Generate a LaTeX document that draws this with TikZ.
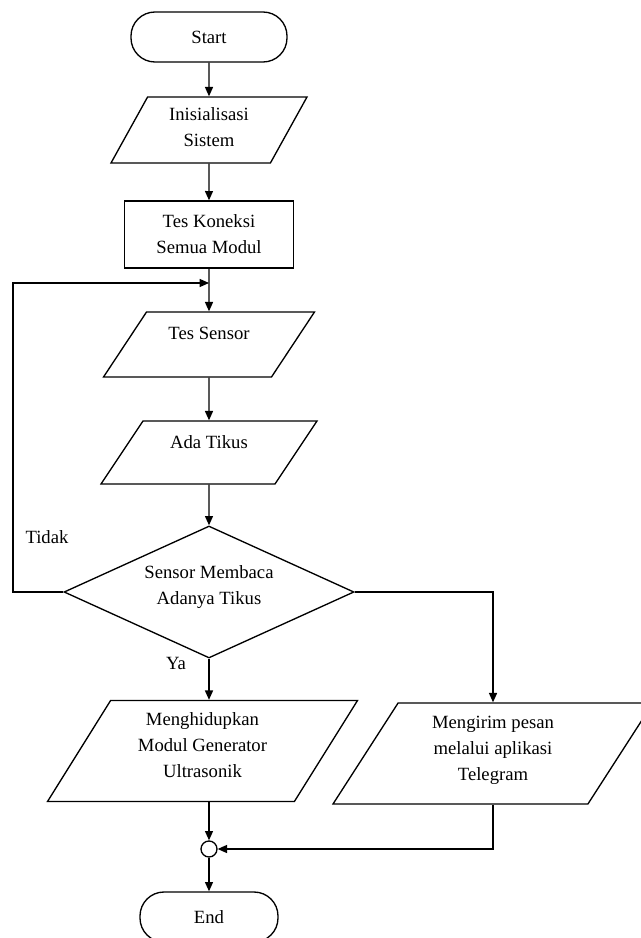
\documentclass[tikz,border=0pt]{standalone}
\usepackage{fontspec}
\setmainfont{Liberation Serif}
\usetikzlibrary{shapes.geometric,arrows.meta}
\tikzset{
    every node/.style={
        align=center,
        font=\fontsize{14}{19.5}\selectfont
    },
    terminal/.style={
        draw,
        rectangle,
        rounded corners=18pt,
        minimum height=37.5pt
    },
    process/.style={
        draw,
        rectangle,
        minimum width=126.75pt,
        minimum height=50.25pt
    },
    inout/.style={
        draw,
        trapezium,
        trapezium stretches body,
        inner xsep=2pt,
        inner ysep=0pt
    },
    decision/.style={
        draw,
        diamond,
        shape aspect=2.2,
        inner sep=0pt,
        minimum width=217.5pt,
        minimum height=99pt
    },
    joint/.style={
        draw,
        circle,
        inner sep=0pt,
        minimum size=12pt
    },
    connector/.style={
        -{Triangle[length=7pt,width=6pt]}
    }
}

\begin{document}
\begin{tikzpicture}[x=0.75pt, y=-0.75pt, line width=1pt]
\useasboundingbox (0,0) rectangle (641,938);

\node[terminal, minimum width=117pt] (start) at (209,37) {Start};
\node[inout, trapezium left angle=61, trapezium right angle=119,
    minimum width=147pt, text height=37.3pt, text depth=12.2pt] (init) at (209,130) {Inisialisasi\\Sistem};
\node[process] (koneksi) at (209,234.5) {Tes Koneksi\\Semua Modul};
\node[inout, trapezium left angle=56.5, trapezium right angle=123.5,
    minimum width=158.25pt, text height=20.5pt, text depth=28.25pt] (sensor) at (209,344.5) {Tes Sensor};
\node[inout, trapezium left angle=56.3, trapezium right angle=123.7,
    minimum width=162pt, text height=20.5pt, text depth=26.75pt] (tikus) at (209,452.5) {Ada Tikus};
\node[decision, text height=29.5pt, text depth=11.1pt] (cek) at (209,592) {Sensor Membaca\\Adanya Tikus};
\node[inout, trapezium left angle=58, trapezium right angle=122,
    minimum width=232.5pt, text height=57.75pt, text depth=18pt] (ultra) at (202.5,751) {Menghidupkan\\Modul Generator\\Ultrasonik};
\node[inout, trapezium left angle=57.2, trapezium right angle=122.8,
    minimum width=240pt, text height=57.75pt, text depth=18pt] (kirim) at (493,753.5) {Mengirim pesan\\melalui aplikasi\\Telegram};
\node[joint] (gabung) at (209,849) {};
\node[terminal, minimum width=103.5pt] (end) at (209,917) {End};

\node (tidak) at (47,537) {Tidak};
\node (ya) at (176,663) {Ya};

\coordinate (balik) at (209,283);
\coordinate (belok) at (13,283);

\draw[connector] (start) -- (init);
\draw[connector] (init) -- (koneksi);
\draw[connector] (koneksi) -- (sensor);
\draw[connector] (sensor) -- (tikus);
\draw[connector] (tikus) -- (cek);
\draw[connector] (cek.west) -| (belok) -- (balik);
\draw[connector] (cek.south) -- (cek.south |- ultra.north);
\draw[connector] (cek.east) -| (kirim.north);
\draw[connector] (gabung |- ultra.south) -- (gabung);
\draw[connector] (kirim.south) |- (gabung.east);
\draw[connector] (gabung) -- (end);
\end{tikzpicture}
\end{document}
